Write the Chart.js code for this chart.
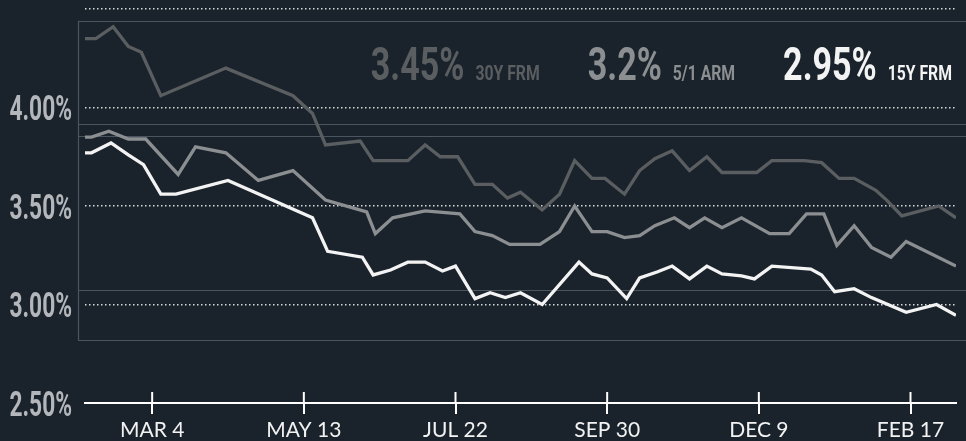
<!DOCTYPE html>
<html>
<head>
<meta charset="utf-8">
<title>Mortgage rates</title>
<script src="https://cdn.jsdelivr.net/npm/chart.js@4.4.1/dist/chart.umd.min.js"></script>
<style>
    html, body { margin: 0; padding: 0; background: #1a232b; }
    #wrap { position: relative; width: 966px; height: 441px; }
</style>
</head>
<body>
<div id="wrap"><canvas id="rateChart"></canvas></div>
<script>
// x values are days counted from MAR 4
const tickDays = [0, 70, 140, 210, 280, 350];
const tickLabels = ['MAR 4', 'MAY 13', 'JUL 22', 'SEP 30', 'DEC 9', 'FEB 17'];

const frm30Days = [-31, -26, -18, -11, -5, 4, 34, 65, 74, 80, 96, 102, 118, 126, 133, 141, 149, 157, 164, 170,
    180, 188, 195, 203, 209, 218, 225, 232, 240, 248, 256, 263, 272, 279, 286, 293, 301, 309, 317, 324,
    334, 339, 346, 363, 371];
const frm30Rates = [4.35, 4.35, 4.41, 4.31, 4.28, 4.06, 4.20, 4.06, 3.97, 3.81, 3.83, 3.73, 3.73, 3.81, 3.75, 3.75, 3.61, 3.61, 3.54, 3.57,
    3.48, 3.56, 3.73, 3.64, 3.64, 3.56, 3.68, 3.74, 3.78, 3.68, 3.75, 3.67, 3.67, 3.67, 3.73, 3.73, 3.73, 3.72, 3.64, 3.64,
    3.58, 3.53, 3.45, 3.50, 3.44];

const armDays = [-31, -28, -20, -11, -3, 12, 20, 34, 49, 65, 80, 99, 103, 111, 126, 142, 149, 157, 165, 179,
    188, 195, 203, 210, 218, 225, 232, 241, 248, 255, 263, 272, 285, 294, 302, 310, 316, 324, 332, 341,
    348, 371];
const armRates = [3.85, 3.85, 3.88, 3.84, 3.84, 3.66, 3.80, 3.77, 3.63, 3.68, 3.53, 3.47, 3.36, 3.44, 3.475, 3.46, 3.37, 3.35, 3.305, 3.305,
    3.37, 3.50, 3.37, 3.37, 3.34, 3.35, 3.40, 3.44, 3.39, 3.44, 3.39, 3.44, 3.36, 3.36, 3.46, 3.46, 3.30, 3.40, 3.29, 3.24,
    3.32, 3.195];

const frm15Days = [-31, -28, -19, -11, -4, 4, 11, 35, 74, 81, 97, 102, 110, 118, 126, 134, 140, 149, 156, 163,
    170, 180, 197, 203, 210, 219, 225, 233, 240, 248, 256, 263, 272, 278, 286, 304, 309, 315, 324, 332,
    348, 362, 371];
const frm15Rates = [3.77, 3.77, 3.82, 3.76, 3.71, 3.56, 3.56, 3.63, 3.44, 3.27, 3.24, 3.15, 3.175, 3.215, 3.215, 3.17, 3.195, 3.03, 3.06, 3.035,
    3.06, 3.00, 3.215, 3.155, 3.135, 3.03, 3.135, 3.165, 3.195, 3.13, 3.195, 3.155, 3.145, 3.13, 3.195, 3.18, 3.15, 3.065, 3.08, 3.035,
    2.96, 3.00, 2.945];

const legendValues = ['3.45%', '3.2%', '2.95%'];
const legendNames = ['30Y FRM', '5/1 ARM', '15Y FRM'];

// Colores
const COLORS = {
    frm30: '#5b5e61',
    arm: '#8c8f92',
    frm15: '#f3f3f3',
    yLabel: '#b3b6ba',
    xLabel: '#f2f2f2',
    grid: 'rgba(235,238,240,0.9)',
    frame: '#4a555f'
};

// frame lines behind the plot (y levels in %)
const FRAME_LEVELS = [4.44, 3.915, 3.856, 3.073, 2.82];

function toPoints(days, rates) {
    return days.map((d, i) => ({ x: d, y: rates[i] }));
}

// texto condensado: squeeze horizontal
function drawCondensed(ctx, text, x, y, font, color, squeeze, align) {
    ctx.save();
    ctx.font = font;
    ctx.fillStyle = color;
    ctx.textAlign = align;
    ctx.textBaseline = 'alphabetic';
    ctx.translate(x, y);
    ctx.scale(squeeze, 1);
    ctx.fillText(text, 0, 0);
    const w = ctx.measureText(text).width * squeeze;
    ctx.restore();
    return w;
}

const framePlugin = {
    id: 'frame',
    beforeDatasetsDraw(chart) {
        const { ctx, chartArea, scales } = chart;
        const left = chartArea.left - 7;
        ctx.save();
        ctx.strokeStyle = COLORS.frame;
        ctx.lineWidth = 1.2;
        FRAME_LEVELS.forEach(v => {
            const y = Math.round(scales.y.getPixelForValue(v)) + 0.5;
            ctx.beginPath();
            ctx.moveTo(left, y);
            ctx.lineTo(chart.width, y);
            ctx.stroke();
        });
        ctx.beginPath();
        ctx.moveTo(left + 0.5, scales.y.getPixelForValue(FRAME_LEVELS[0]));
        ctx.lineTo(left + 0.5, scales.y.getPixelForValue(FRAME_LEVELS[FRAME_LEVELS.length - 1]));
        ctx.stroke();
        ctx.restore();
    },
    afterDraw(chart) {
        const { ctx, chartArea, scales } = chart;
        // upper half of the x ticks
        ctx.save();
        ctx.strokeStyle = '#ffffff';
        ctx.lineWidth = 2;
        scales.x.ticks.forEach(t => {
            const x = scales.x.getPixelForValue(t.value);
            ctx.beginPath();
            ctx.moveTo(x, chartArea.bottom - 11);
            ctx.lineTo(x, chartArea.bottom);
            ctx.stroke();
        });
        ctx.restore();

        // y labels
        scales.y.ticks.forEach(t => {
            if (t.value >= 4.5) return;
            const y = scales.y.getPixelForValue(t.value);
            drawCondensed(ctx, t.value.toFixed(2) + '%', chartArea.left - 13, y + 12.5,
                'bold 35px Roboto', COLORS.yLabel, 0.65, 'right');
        });

        // legend with latest values
        const colors = [COLORS.frm30, COLORS.arm, COLORS.frm15];
        let cursor = 952;
        for (let i = legendValues.length - 1; i >= 0; i--) {
            const nw = drawCondensed(ctx, legendNames[i], cursor, 80, 'bold 21px Roboto', colors[i], 0.75, 'right');
            cursor -= nw + 11;
            const vw = drawCondensed(ctx, legendValues[i], cursor, 80, 'bold 46px Roboto', colors[i], 0.74, 'right');
            cursor -= vw + 48;
        }
    }
};

function lineDataset(label, days, rates, color, order) {
    return {
        label: label,
        data: toPoints(days, rates),
        borderColor: color,
        borderWidth: 3.3,
        borderJoinStyle: 'miter',
        pointRadius: 0,
        tension: 0,
        fill: false,
        order: order
    };
}

new Chart(document.getElementById('rateChart'), {
    type: 'line',
    data: {
        datasets: [
            lineDataset('30Y FRM', frm30Days, frm30Rates, COLORS.frm30, 3),
            lineDataset('5/1 ARM', armDays, armRates, COLORS.arm, 2),
            lineDataset('15Y FRM', frm15Days, frm15Rates, COLORS.frm15, 1)
        ]
    },
    plugins: [framePlugin],
    options: {
        responsive: true,
        maintainAspectRatio: false,
        animation: false,
        layout: { padding: { top: 9, right: 10, left: 0, bottom: 0 } },
        plugins: {
            legend: { display: false },
            tooltip: { enabled: false }
        },
        scales: {
            x: {
                type: 'linear',
                min: -31,
                max: 371,
                afterBuildTicks: scale => {
                    scale.ticks = tickDays.map(v => ({ value: v }));
                },
                afterFit: scale => { scale.height = 38; },
                border: { display: true, color: '#ffffff', width: 2 },
                grid: {
                    drawOnChartArea: false,
                    drawTicks: true,
                    tickLength: 11,
                    color: '#ffffff',
                    lineWidth: 2
                },
                ticks: {
                    padding: 4,
                    maxRotation: 0,
                    autoSkip: false,
                    color: COLORS.xLabel,
                    font: { family: 'Lato', size: 21 },
                    callback: value => tickLabels[tickDays.indexOf(value)]
                }
            },
            y: {
                min: 2.5,
                max: 4.5,
                afterFit: scale => { scale.width = 85; },
                border: { display: false, dash: [1.5, 2.5] },
                grid: {
                    drawTicks: false,
                    color: ctx => ctx.tick.value <= 2.5 ? 'rgba(0,0,0,0)' : COLORS.grid,
                    lineWidth: 1.5
                },
                ticks: {
                    display: false,
                    stepSize: 0.5
                }
            }
        }
    }
});
</script>
</body>
</html>
